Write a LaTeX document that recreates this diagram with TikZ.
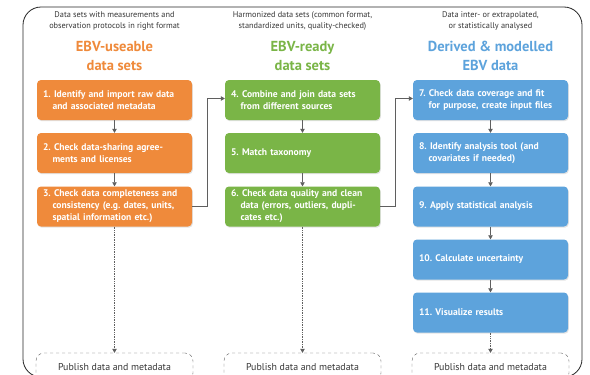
\documentclass[tikz,border=0pt]{standalone}
\usepackage{fontspec}
\setmainfont{PT Sans}
\usetikzlibrary{arrows.meta,shadows}
\frenchspacing

\definecolor{ebvorange}{RGB}{239,138,59}
\definecolor{ebvgreen}{RGB}{122,181,71}
\definecolor{ebvblue}{RGB}{93,163,220}
\definecolor{headgray}{RGB}{55,55,55}
\definecolor{linkgray}{RGB}{95,95,95}

\newcommand{\brk}{\\\hspace*{9.5pt}}

\tikzset{
  task/.style={rectangle, rounded corners=4pt, text width=143pt, inner xsep=6pt, inner ysep=0pt,
    minimum height=40pt, align=left, text=white, font=\fontsize{9.6}{12}\selectfont\bfseries,
    drop shadow={opacity=0.22, shadow xshift=0.8pt, shadow yshift=-1.2pt}},
  headline/.style={align=center, text=headgray, font=\fontsize{8.3}{11.5}\selectfont},
  coltitle/.style={align=center, font=\fontsize{14.5}{19.5}\selectfont\bfseries},
  publish/.style={draw=linkgray, dashed, rounded corners=8pt, minimum width=157pt,
    minimum height=28pt, text=headgray, font=\fontsize{9.9}{12}\selectfont},
  flow/.style={draw=linkgray, line width=0.7pt, -{Triangle[length=4pt,width=4.5pt]}},
  pubflow/.style={draw=linkgray, line width=0.7pt, densely dotted, -{Triangle[length=4pt,width=4.5pt]}}
}

\begin{document}
\begin{tikzpicture}[x=1pt,y=-1pt]
      \useasboundingbox (0,0) rectangle (590,375);
      \clip (0,0) rectangle (590,375);
      \fill[white] (0,0) rectangle (590,375);

      \draw[line width=0.8pt, black!85, rounded corners=18pt] (23,7) rectangle (582,377);

      % column headings
      \node(H1)[headline] at (114.5,21) {Data sets with measurements and\\observation protocols in right format};
      \node(H2)[headline] at (302.5,21) {Harmonized data sets (common format,\\standardized units, quality-checked)};
      \node(H3)[headline] at (490.5,21) {Data inter- or extrapolated,\\or statistically analysed};

      \node(C1)[coltitle, text=ebvorange] at (114.5,56) {EBV-useable\\data sets};
      \node(C2)[coltitle, text=ebvgreen] at (302.5,56) {EBV-ready\\data sets};
      \node(C3)[coltitle, text=ebvblue] at (490.5,56) {Derived \& modelled\\EBV data};

      % steps
      \node(T1)[task, fill=ebvorange] at (114.5,100) {1. Identify and import raw data\brk and associated metadata};
      \node(T2)[task, fill=ebvorange] at (114.5,153) {2. Check data-sharing agree-\brk ments and licenses};
      \node(T3)[task, fill=ebvorange] at (114.5,206.5) {3. Check data completeness and\brk consistency (e.g. dates, units,\brk spatial information etc.)};

      \node(T4)[task, fill=ebvgreen] at (302.5,100) {4. Combine and join data sets\brk from different sources};
      \node(T5)[task, fill=ebvgreen] at (302.5,153) {5. Match taxonomy};
      \node(T6)[task, fill=ebvgreen] at (302.5,206.5) {6. Check data quality and clean\brk data (errors, outliers, dupli-\brk cates etc.)};

      \node(T7)[task, fill=ebvblue] at (490.5,100) {7. Check data coverage and fit\brk for purpose, create input files};
      \node(T8)[task, fill=ebvblue] at (490.5,153) {8. Identify analysis tool (and\brk covariates if needed)};
      \node(T9)[task, fill=ebvblue] at (490.5,206.5) {9. Apply statistical analysis};
      \node(T10)[task, fill=ebvblue] at (490.5,259.5) {10. Calculate uncertainty};
      \node(T11)[task, fill=ebvblue] at (490.5,312.5) {11. Visualize results};

      \node(P1)[publish] at (114.5,367) {Publish data and metadata};
      \node(P2)[publish] at (302.5,367) {Publish data and metadata};
      \node(P3)[publish] at (490.5,367) {Publish data and metadata};

      % links
      \draw[flow] (T1) -- (T2);
      \draw[flow] (T2) -- (T3);
      \draw[flow] (T4) -- (T5);
      \draw[flow] (T5) -- (T6);
      \draw[flow] (T7) -- (T8);
      \draw[flow] (T8) -- (T9);
      \draw[flow] (T9) -- (T10);
      \draw[flow] (T10) -- (T11);

      \draw[flow] (T3.east) -- ++(15.5,0) |- ([yshift=1.5pt]T4.west);
      \draw[flow] (T6.east) -- ++(15.5,0) |- ([yshift=1.5pt]T7.west);

      \draw[pubflow] (T3) -- (P1);
      \draw[pubflow] (T6) -- (P2);
      \draw[pubflow] (T11) -- (P3);
\end{tikzpicture}
\end{document}
